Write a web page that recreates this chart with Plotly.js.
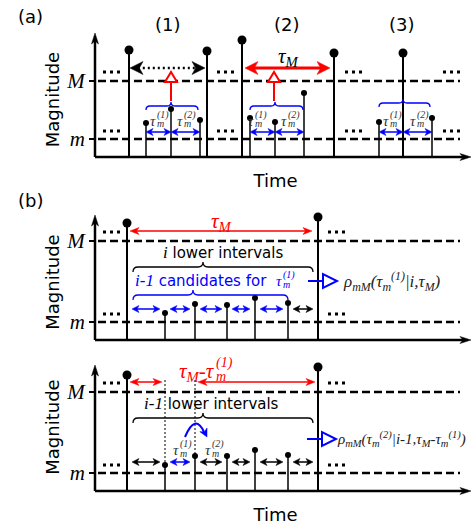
<!DOCTYPE html>
<html><head><meta charset="utf-8">
<script src="https://cdn.plot.ly/plotly-3.0.1.min.js"></script>
<style>html,body{margin:0;padding:0;background:#fff}</style>
</head><body><div id="chart" style="width:471px;height:532px"></div>
<script>
// ---------------- data ----------------
const levelLabels = ['<i>m</i>', '<i>M</i>'];
const aLevels = [18, 76];          // m, M (panel a)
const bLevels = [18, 99];          // m, M (panels b)
const aTimes = [34, 51, 76, 105, 112, 147, 155, 180, 209, 239, 284, 308, 337];
const aMags  = [107, 34, 48, 37, 106, 117, 39, 35, 64, 104, 35, 104, 39];
const b1Times = [32, 70, 100, 132, 160, 193, 223];
const b1Mags  = [117, 27, 36, 35, 42, 37, 123];
const b2Times = [32, 70, 100, 132, 160, 193, 223];
const b2Mags  = [116, 26, 35, 35, 41, 36, 124];
const groupLabels = ['(1)', '(2)', '(3)'];
const panelLabels = ['(a)', '(b)'];

// ---------------- helpers ----------------
const W = 471, H = 532;
const SERIF = 'Liberation Serif';
const SANS = 'DejaVu Sans';
const BLUE = '#0000ff', RED = '#ff0000';
const shapes = [], ann = [];
const AX = [['x','y'],['x2','y2'],['x3','y3']];
function ln(p,x0,y0,x1,y1,c,w,d){shapes.push({type:'line',xref:AX[p][0],yref:AX[p][1],x0,y0,x1,y1,line:{color:c,width:w,dash:d||'solid'},layer:'above'});}
function pth(p,d,c,w,f){shapes.push({type:'path',xref:AX[p][0],yref:AX[p][1],path:d,line:{color:c,width:w},fillcolor:f||'rgba(0,0,0,0)',layer:'above'});}
function head(p,tx,ty,dx,dy,L,Wd,c){const n=Math.hypot(dx,dy);dx/=n;dy/=n;
  const bx=tx-L*dx,by=ty-L*dy,px=-dy,py=dx,nx=tx-0.72*L*dx,ny=ty-0.72*L*dy;
  pth(p,`M ${tx} ${ty} L ${bx+Wd*px} ${by+Wd*py} L ${nx} ${ny} L ${bx-Wd*px} ${by-Wd*py} Z`,c,0.5,c);}
function arrow2(p,x1,x2,y,c,w,L,Wd,d){ln(p,x1+L*0.6,y,x2-L*0.6,y,c,w,d);head(p,x2,y,1,0,L,Wd,c);head(p,x1,y,-1,0,L,Wd,c);}
function dots(p,x,y){ln(p,x,y,x+17,y,'black',3,'3px,4px');}
function brace(p,x1,x2,xc,y,h,c,w){
  pth(p,`M ${x1} ${y-h} Q ${x1} ${y} ${x1+h} ${y} L ${xc-h} ${y} Q ${xc} ${y} ${xc} ${y+h} Q ${xc} ${y} ${xc+h} ${y} L ${x2-h} ${y} Q ${x2} ${y} ${x2} ${y-h}`,c,w);}
function triUp(p,x,y0,y1,Ht,Wd,c){ln(p,x,y0,x,y1,c,2);pth(p,`M ${x-Wd} ${y1} L ${x+Wd} ${y1} L ${x} ${y1+Ht} Z`,c,2,'white');}
function triRight(p,x0,x1,y,Ht,Wd,c){ln(p,x0,y,x1,y,c,2);pth(p,`M ${x1} ${y-Wd} L ${x1} ${y+Wd} L ${x1+Ht} ${y} Z`,c,2,'white');}
function txt(p,x,y,text,size,color,family,anchor){ann.push({xref:AX[p][0],yref:AX[p][1],x,y,text,showarrow:false,
  font:{size,color:color||'black',family:family||SANS},xanchor:anchor||'center',yanchor:'middle',borderpad:0});}
function ptxt(px,py,text,size){ann.push({xref:'paper',yref:'paper',x:px/W,y:1-py/H,text,showarrow:false,font:{size,family:SANS,color:'black'},xanchor:'center',yanchor:'middle'});}
function tau(p,xr,y,sup,c,S,s){
  txt(p,xr,y,'<i>τ</i>',S,c,SERIF,'right');
  txt(p,xr-1,y+6,`<i>${sup}</i>`,s,c,SERIF,'left');
  txt(p,xr-1,y-3,'<i>m</i>',s,c,SERIF,'left');
}
function axisArrows(p,top){ln(p,0,0,368,0,'black',2.5);head(p,376,0,1,0,11,3.5,'black');
  ln(p,0,0,0,top-6,'black',2.5);head(p,0,top,0,1,11,3.5,'black');}

// ---------------- traces ----------------
function stemTraces(times,mags,M,xa,ya){
  const bx=[],by=[],sx=[],sy=[],bmx=[],bmy=[],smx=[],smy=[];
  times.forEach((t,i)=>{const big=mags[i]>M;
    (big?bx:sx).push(t,t,null);(big?by:sy).push(0,mags[i],null);
    (big?bmx:smx).push(t);(big?bmy:smy).push(mags[i]);});
  const base={xaxis:xa,yaxis:ya,cliponaxis:false,hoverinfo:'skip',showlegend:false,type:'scatter'};
  return [
    Object.assign({x:bx,y:by,mode:'lines',line:{color:'black',width:2}},base),
    Object.assign({x:sx,y:sy,mode:'lines',line:{color:'black',width:1.5}},base),
    Object.assign({x:bmx,y:bmy,mode:'markers',marker:{color:'black',size:9}},base),
    Object.assign({x:smx,y:smy,mode:'markers',marker:{color:'black',size:6}},base)];
}
const data=[].concat(
  stemTraces(aTimes,aMags,aLevels[1],'x','y'),
  stemTraces(b1Times,b1Mags,bLevels[1],'x2','y2'),
  stemTraces(b2Times,b2Mags,bLevels[1],'x3','y3'));

// ---------------- panel (a) ----------------
axisArrows(0,124);
aLevels.forEach(v=>ln(0,3,v,365,v,'black',2.5,'8px,4px'));
[8,122,250,348].forEach(x=>{dots(0,x,85);dots(0,x,26);});
arrow2(0,35,110,89,'black',2.5,13,6.5,'2px,3px');
arrow2(0,150,235,89,RED,3,13,6.5);
txt(0,193,100,'<i>τ<sub>M</sub></i>',21,'black',SERIF);
triUp(0,76,56,75,10,6,RED); triUp(0,179,56,75,10,6,RED);
brace(0,51,103,76,51,4,BLUE,1.3); brace(0,155,208,180,51,4,BLUE,1.3); brace(0,284,335,308,54,4,BLUE,1.3);
[[51,76],[76,105],[155,180],[180,209],[284,308],[308,337]].forEach(s=>arrow2(0,s[0],s[1],25,BLUE,1.5,7,3.5));
[[62,'(1)'],[89,'(2)'],[160,'(1)'],[193,'(2)'],[295,'(1)'],[322,'(2)']].forEach(t=>tau(0,t[0],36,t[1],'#333',15,10));

// ---------------- panel (b) top ----------------
axisArrows(1,125);
bLevels.forEach(v=>ln(1,3,v,365,v,'black',2.5,'8px,4px'));
[8,233].forEach(x=>{dots(1,x,108);dots(1,x,26);});
arrow2(1,35,217,109,RED,1.5,9,3.5);
txt(1,126,118,'<i>τ<sub>M</sub></i>',21,RED,SERIF);
brace(1,38,218,108,73,5,'black',1.3);
txt(1,128,88,`<span style="font-family:${SERIF};font-style:italic;font-size:17px">i</span> lower intervals`,15,'black',SANS);
brace(1,38,193,98,45,5,BLUE,1.3);
txt(1,173,60,`<span style="font-family:${SERIF};font-style:italic;font-size:17px">i-1</span> candidates for`,15,BLUE,SANS,'right');
tau(1,188,59,'(1)',BLUE,15,10);
for(let i=0;i<b1Times.length-1;i++){arrow2(1,b1Times[i]+5,b1Times[i+1]-5,31,i<b1Times.length-2?BLUE:'black',1.5,7,3.5);}
triRight(1,213,228,59,14,7,BLUE);
txt(1,247,59,'<i>ρ<sub>mM</sub>(τ<sub>m</sub><sup>(1)</sup>|i,τ<sub>M</sub>)</i>',17,'#222',SERIF,'left');

// ---------------- panel (b) bottom ----------------
axisArrows(2,126);
bLevels.forEach(v=>ln(2,3,v,365,v,'black',2.5,'8px,4px'));
[8,233].forEach(x=>{dots(2,x,108);dots(2,x,26);});
arrow2(2,35,67,109,RED,1.5,9,3.5);
arrow2(2,103,220,109,RED,1.5,9,3.5);
txt(2,121,119,'<i>τ<sub>M</sub>-τ</i>',21,RED,SERIF,'right');
txt(2,120,128,'<i>(1)</i>',14,RED,SERIF,'left');
txt(2,120,115,'<i>m</i>',14,RED,SERIF,'left');
ln(2,b2Times[1],111,b2Times[1],b2Mags[1],'black',1,'2px,2px');
ln(2,b2Times[2],111,b2Times[2],b2Mags[2],'black',1,'2px,2px');
brace(2,38,218,108,73,5,'black',1.3);
txt(2,116,88,`<span style="font-family:${SERIF};font-style:italic;font-size:17px">i-1</span> lower intervals`,15,'black',SANS);
pth(2,'M 90 54 Q 100 78 109 59',BLUE,2);
head(2,112,54,12,-24,8,4,BLUE);
for(let i=0;i<b2Times.length-1;i++){arrow2(2,b2Times[i]+5,b2Times[i+1]-5,29,i===1?BLUE:'black',1.5,7,3.5);}
tau(2,85,41,'(1)','#333',15,10);
tau(2,117,41,'(2)','#333',15,10);
triRight(2,212,227,52,14,7,BLUE);
txt(2,241,52,'<i>ρ<sub>mM</sub>(τ<sub>m</sub><sup>(2)</sup>|i-1,τ<sub>M</sub>-τ<sub>m</sub><sup>(1)</sup>)</i>',15,'#222',SERIF,'left');

// ---------------- labels ----------------
ptxt(30,17,panelLabels[0],18);
ptxt(30,200,panelLabels[1],18);
[168,287,402].forEach((x,i)=>ptxt(x,24,groupLabels[i],18));

// ---------------- axes ----------------
function xax(posPx,title){return {domain:[80/W,1],range:[-15,376],anchor:'free',position:(H-posPx)/H,showline:false,showgrid:false,zeroline:false,
  showticklabels:false,ticks:'',automargin:false,fixedrange:true,title:{text:title||'',font:{size:18,family:SANS},standoff:17}};}
function yax(basePx,rmax,levels){return {domain:[1-(basePx+12)/H,1-(basePx-rmax)/H],range:[-12,rmax],anchor:'free',position:95/W,
  showline:false,showgrid:false,zeroline:false,tickvals:levels,ticktext:levelLabels,ticks:'outside',ticklen:6,tickwidth:2,tickcolor:'black',
  tickfont:{family:SERIF,size:21,color:'black'},automargin:false,fixedrange:true,title:{text:'Magnitude',font:{size:18,family:SANS},standoff:0}};}
const layout={width:W,height:H,margin:{l:0,r:0,t:0,b:0},paper_bgcolor:'white',plot_bgcolor:'rgba(0,0,0,0)',
  font:{family:SANS,color:'black'},showlegend:false,
  xaxis:xax(157,'Time'),yaxis:yax(157,127,aLevels),
  xaxis2:xax(340,''),yaxis2:yax(340,128,bLevels),
  xaxis3:xax(491,'Time'),yaxis3:yax(491,140,bLevels),
  shapes,annotations:ann};
Plotly.newPlot('chart',data,layout,{staticPlot:true,displayModeBar:false});
</script></body></html>
